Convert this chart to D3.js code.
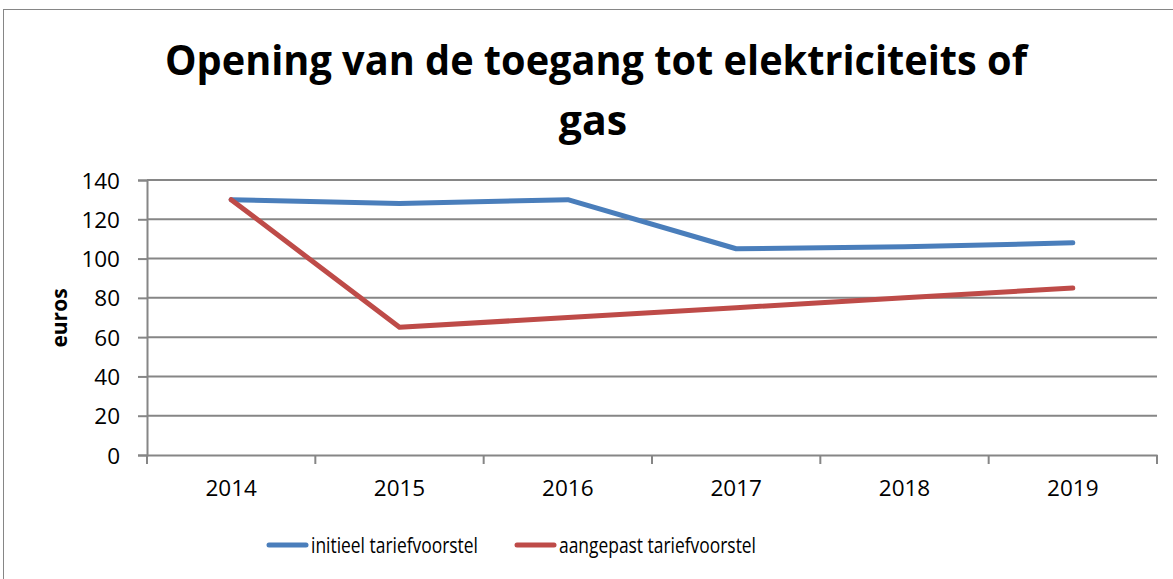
<!DOCTYPE html>
<html lang="nl">
<head>
  <meta charset="UTF-8">
  <title>Opening van de toegang tot elektriciteits of gas</title>
  <style>
    body { margin: 0; background: #fff; }
    svg text { font-family: "Open Sans", "Noto Sans", sans-serif; fill: #000; }
  </style>
</head>
<body>
  <svg id="chart" width="1173" height="579"></svg>

  <script src="https://d3js.org/d3.v7.min.js"></script>
  <script>
    const years = ["2014", "2015", "2016", "2017", "2018", "2019"];
    const initieel = [130, 128, 130, 105, 106, 108];
    const aangepast = [130, 65, 70, 75, 80, 85];
    const yTicks = [0, 20, 40, 60, 80, 100, 120, 140];
    const seriesNames = ["initieel tariefvoorstel", "aangepast tariefvoorstel"];
    const colors = ["#4a7ebb", "#be4b48"];

    const svg = d3.select("#chart");
    const plotLeft = 147, plotRight = 1157, plotTop = 180, plotBottom = 455;

    // outer frame
    svg.append("rect")
      .attr("x", 3.5).attr("y", 9.5)
      .attr("width", 1180).attr("height", 600)
      .attr("fill", "none").attr("stroke", "#868686").attr("stroke-width", 1);

    // title
    svg.append("text")
      .attr("x", 596).attr("y", 75)
      .attr("text-anchor", "middle")
      .attr("textLength", 862).attr("lengthAdjust", "spacingAndGlyphs")
      .style("font-size", "41px").style("font-weight", "bold")
      .text("Opening van de toegang tot elektriciteits of");
    svg.append("text")
      .attr("x", 593).attr("y", 135)
      .attr("text-anchor", "middle")
      .style("font-size", "41px").style("font-weight", "bold")
      .text("gas");

    const x = d3.scaleBand().domain(years).range([plotLeft, plotRight]);
    const y = d3.scaleLinear().domain([0, 140]).range([plotBottom, plotTop]);

    // gridlines
    svg.append("g")
      .selectAll("line")
      .data(yTicks.filter(d => d > 0))
      .join("line")
      .attr("x1", plotLeft).attr("x2", plotRight)
      .attr("y1", d => y(d)).attr("y2", d => y(d))
      .attr("stroke", "#868686").attr("stroke-width", 2);

    // y axis
    const yAxis = svg.append("g")
      .attr("transform", `translate(${plotLeft},0)`)
      .call(d3.axisLeft(y).tickValues(yTicks).tickSize(9).tickPadding(18));
    yAxis.select(".domain").attr("stroke", "#868686").attr("stroke-width", 2);
    yAxis.selectAll(".tick line").attr("stroke", "#868686").attr("stroke-width", 2);
    yAxis.selectAll(".tick text")
      .style("font-size", "22.5px")
      .attr("dy", "0.36em");

    // x axis
    const xAxis = svg.append("g")
      .attr("transform", `translate(0,${plotBottom})`)
      .call(d3.axisBottom(x).tickSize(0).tickPadding(25));
    xAxis.select(".domain").attr("stroke", "#868686").attr("stroke-width", 2);
    xAxis.selectAll(".tick text").style("font-size", "22.5px");
    xAxis.append("g")
      .selectAll("line")
      .data(d3.range(years.length + 1))
      .join("line")
      .attr("x1", i => plotLeft + i * x.step()).attr("x2", i => plotLeft + i * x.step())
      .attr("y1", 0).attr("y2", 9)
      .attr("stroke", "#868686").attr("stroke-width", 2);

    // y label
    svg.append("text")
      .attr("transform", "translate(67,318) rotate(-90)")
      .attr("text-anchor", "middle")
      .style("font-size", "21px").style("font-weight", "bold")
      .text("euros");

    // lines
    const line = d3.line()
      .x((d, i) => x(years[i]) + x.bandwidth() / 2)
      .y(d => y(d));

    [initieel, aangepast].forEach((vals, k) => {
      svg.append("path")
        .datum(vals)
        .attr("d", line)
        .attr("fill", "none")
        .attr("stroke", colors[k])
        .attr("stroke-width", 5)
        .attr("stroke-linecap", "round")
        .attr("stroke-linejoin", "round");
    });

    // legend
    const legendX = [269, 517];
    const legendTextW = [167, 197];
    seriesNames.forEach((name, k) => {
      const g = svg.append("g").attr("transform", `translate(${legendX[k]},545)`);
      g.append("line")
        .attr("x1", 0).attr("x2", 37)
        .attr("stroke", colors[k]).attr("stroke-width", 5)
        .attr("stroke-linecap", "round");
      g.append("text")
        .attr("x", 42).attr("y", 8)
        .attr("textLength", legendTextW[k]).attr("lengthAdjust", "spacingAndGlyphs")
        .style("font-size", "22px")
        .text(name);
    });
  </script>
</body>
</html>
